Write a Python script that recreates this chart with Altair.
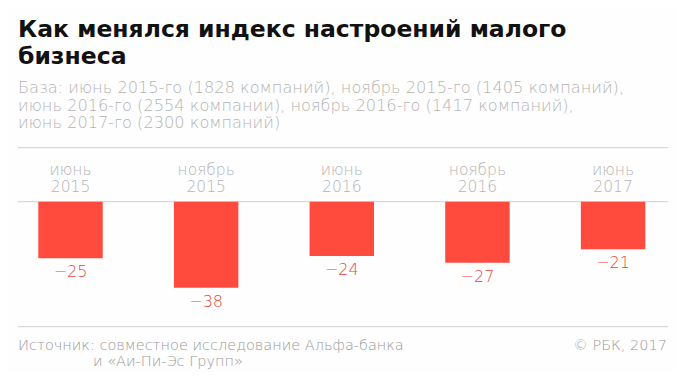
import altair as alt
import pandas as pd

# ---- data ----
categories = ["июнь 2015", "ноябрь 2015", "июнь 2016", "ноябрь 2016", "июнь 2017"]
months = ["июнь", "ноябрь", "июнь", "ноябрь", "июнь"]
years = ["2015", "2015", "2016", "2016", "2017"]
values = [-25, -38, -24, -27, -21]

title_lines = ["Как менялся индекс настроений малого", "бизнеса"]
subtitle_lines = [
    "База: июнь 2015-го (1828 компаний), ноябрь 2015-го (1405 компаний),",
    "июнь 2016-го (2554 компании), ноябрь 2016-го (1417 компаний),",
    "июнь 2017-го (2300 компаний)",
]
source_lines = ["Источник: совместное исследование Альфа-банка", "и «Аи-Пи-Эс Групп»"]
copyright_text = "© РБК, 2017"

df = pd.DataFrame({
    "cat": categories,
    "month": months,
    "year": years,
    "value": values,
    "label": ["\u2212" + str(abs(v)) for v in values],
})

FONT = "DejaVu Sans"
RED = "#ff4a3e"
GRAY = "#b4b4b4"
FOOT = "#9a9a9a"
RULE = "#d0d0d0"

x = alt.X("cat:N", sort=categories, axis=None,
          scale=alt.Scale(range=[-5.3, 672.9], paddingInner=0.525, paddingOuter=0.2625))
y = alt.Y("value:Q", axis=None,
          scale=alt.Scale(domain=[0, -38], range=[193.7, 279.7], nice=False))

base = alt.Chart(df)

def one_text(txt, xv, yv, **kw):
    return alt.Chart(pd.DataFrame({"t": [txt]})).mark_text(font=FONT, **kw).encode(
        x=alt.value(xv), y=alt.value(yv), text="t:N")

rules = alt.Chart(pd.DataFrame({"r": [139.7, 193.7, 318.7]})).mark_rule(
    color=RULE, strokeWidth=1).encode(
    y=alt.Y("r:Q", scale=None), x=alt.value(10), x2=alt.value(660))

bars = base.mark_bar(color=RED).encode(x=x, y=y, y2=alt.datum(0))

vals = base.mark_text(font=FONT, fontSize=16, color="#e9433a", baseline="middle",
                      dy=14, fontWeight=300).encode(x=x, y=y, text="label:N")

mon = base.mark_text(font=FONT, fontSize=15.5, color=GRAY, baseline="middle",
                     fontWeight=300).encode(x=x, y=alt.value(162), text="month:N")
yr = base.mark_text(font=FONT, fontSize=15.5, color=GRAY, baseline="middle",
                    fontWeight=300).encode(x=x, y=alt.value(178.7), text="year:N")

t1 = one_text(title_lines[0], 10, 28.7, fontSize=23.5, fontWeight="bold", color="#111111",
              align="left", baseline="alphabetic")
t2 = one_text(title_lines[1], 10, 55.5, fontSize=23.5, fontWeight="bold", color="#111111",
              align="left", baseline="alphabetic")
s1 = one_text(subtitle_lines[0], 10, 85, fontSize=16.2, color=GRAY, fontWeight=300,
              align="left", baseline="alphabetic")
s2 = one_text(subtitle_lines[1], 10, 102.5, fontSize=16.2, color=GRAY, fontWeight=300,
              align="left", baseline="alphabetic")
s3 = one_text(subtitle_lines[2], 10, 120, fontSize=16.2, color=GRAY, fontWeight=300,
              align="left", baseline="alphabetic")
f1 = one_text(source_lines[0], 10, 342, fontSize=14.5, color=FOOT, fontWeight=300,
              align="left", baseline="alphabetic")
f2 = one_text(source_lines[1], 85, 357.5, fontSize=14.5, color=FOOT, fontWeight=300,
              align="left", baseline="alphabetic")
f3 = one_text(copyright_text, 659, 342, fontSize=14.5, color=FOOT, fontWeight=300,
              align="right", baseline="alphabetic")

chart = alt.layer(rules, bars, vals, mon, yr, t1, t2, s1, s2, s3, f1, f2, f3).properties(
    width=669, height=365, autosize=alt.AutoSizeParams(type="none"),
    padding=0, background="#fefefe"
).configure_view(stroke=None)

chart.save("out.html", embed_options={"renderer": "svg", "actions": False})
